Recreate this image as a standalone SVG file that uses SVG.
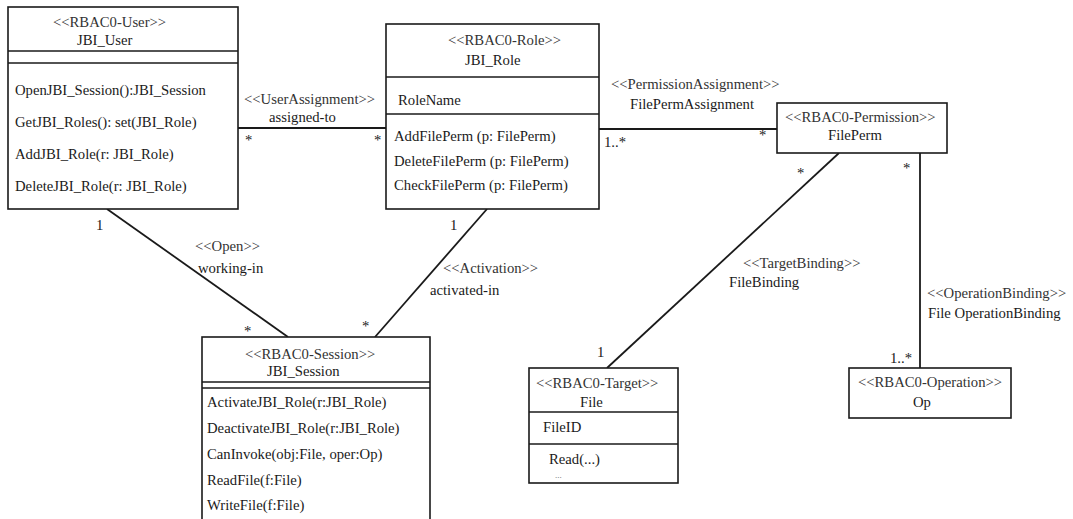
<svg xmlns="http://www.w3.org/2000/svg" width="1073" height="519" viewBox="0 0 1073 519">
<style>
text{font-family:'Liberation Serif','DejaVu Serif',serif;font-size:14.7px;fill:#1a1a1a}
.st{fill:#333}
.box{fill:#fff;stroke:#1a1a1a;stroke-width:1.6}
.div{stroke:#1a1a1a;stroke-width:1.6}
.con{stroke:#1a1a1a;stroke-width:1.8;fill:none}
.sm{font-size:9px;fill:#666}
</style>
<rect width="1073" height="519" fill="#fff"/>
<g id="connectors">
<line class="con" x1="238" y1="128" x2="386" y2="128"/>
<line class="con" x1="599" y1="129" x2="777" y2="129"/>
<line class="con" x1="839" y1="153" x2="607" y2="368"/>
<line class="con" x1="920" y1="153" x2="920" y2="368"/>
<line class="con" x1="107" y1="209" x2="288" y2="337"/>
<line class="con" x1="487" y1="209" x2="375" y2="337"/>
<text class="st" x="244" y="104">&lt;&lt;UserAssignment&gt;&gt;</text>
<text x="269" y="122">assigned-to</text>
<text x="245" y="145">*</text>
<text x="374" y="145">*</text>
<text class="st" x="611" y="89">&lt;&lt;PermissionAssignment&gt;&gt;</text>
<text x="630" y="109">FilePermAssignment</text>
<text x="604" y="147">1..*</text>
<text x="759" y="140">*</text>
<text x="797" y="178">*</text>
<text class="st" x="743" y="268">&lt;&lt;TargetBinding&gt;&gt;</text>
<text x="729" y="287">FileBinding</text>
<text x="597" y="357">1</text>
<text x="903" y="173">*</text>
<text x="890" y="363">1..*</text>
<text class="st" x="927" y="298">&lt;&lt;OperationBinding&gt;&gt;</text>
<text x="928" y="318">File OperationBinding</text>
<text x="96" y="230">1</text>
<text class="st" x="195" y="251">&lt;&lt;Open&gt;&gt;</text>
<text x="198" y="273">working-in</text>
<text x="244" y="336">*</text>
<text x="450" y="230">1</text>
<text class="st" x="443" y="273">&lt;&lt;Activation&gt;&gt;</text>
<text x="430" y="295">activated-in</text>
<text x="362" y="331">*</text>
</g>
<g id="JBI_User">
<rect class="box" x="8" y="7" width="230" height="202"/>
<line class="div" x1="8" y1="51" x2="238" y2="51"/>
<line class="div" x1="8" y1="63" x2="238" y2="63"/>
<text class="st" x="53" y="27">&lt;&lt;RBAC0-User&gt;&gt;</text>
<text x="77" y="45">JBI_User</text>
<text x="15" y="95">OpenJBI_Session():JBI_Session</text>
<text x="15" y="127">GetJBI_Roles(): set(JBI_Role)</text>
<text x="15" y="159">AddJBI_Role(r: JBI_Role)</text>
<text x="15" y="191">DeleteJBI_Role(r: JBI_Role)</text>
</g>
<g id="JBI_Role">
<rect class="box" x="386" y="24" width="213" height="185"/>
<line class="div" x1="386" y1="77" x2="599" y2="77"/>
<line class="div" x1="386" y1="114" x2="599" y2="114"/>
<text class="st" x="448" y="45">&lt;&lt;RBAC0-Role&gt;&gt;</text>
<text x="465" y="65">JBI_Role</text>
<text x="398" y="105">RoleName</text>
<text x="394" y="141">AddFilePerm (p: FilePerm)</text>
<text x="394" y="166">DeleteFilePerm (p: FilePerm)</text>
<text x="394" y="190">CheckFilePerm (p: FilePerm)</text>
</g>
<g id="FilePerm">
<rect class="box" x="777" y="103" width="170" height="50"/>
<text class="st" x="785" y="122">&lt;&lt;RBAC0-Permission&gt;&gt;</text>
<text x="828" y="140">FilePerm</text>
</g>
<g id="JBI_Session">
<rect class="box" x="202" y="337" width="228" height="200"/>
<line class="div" x1="202" y1="382" x2="430" y2="382"/>
<line class="div" x1="202" y1="388" x2="430" y2="388"/>
<text class="st" x="245" y="359">&lt;&lt;RBAC0-Session&gt;&gt;</text>
<text x="267" y="376">JBI_Session</text>
<text x="207" y="407">ActivateJBI_Role(r:JBI_Role)</text>
<text x="207" y="433">DeactivateJBI_Role(r:JBI_Role)</text>
<text x="207" y="459">CanInvoke(obj:File, oper:Op)</text>
<text x="207" y="485">ReadFile(f:File)</text>
<text x="207" y="510">WriteFile(f:File)</text>
</g>
<g id="File">
<rect class="box" x="529" y="368" width="149" height="115"/>
<line class="div" x1="529" y1="412" x2="678" y2="412"/>
<line class="div" x1="529" y1="444" x2="678" y2="444"/>
<text class="st" x="536" y="388">&lt;&lt;RBAC0-Target&gt;&gt;</text>
<text x="580" y="407">File</text>
<text x="543" y="432">FileID</text>
<text x="549" y="464">Read(...)</text>
<text class="sm" x="555" y="478">...</text>
</g>
<g id="Op">
<rect class="box" x="849" y="368" width="162" height="50"/>
<text class="st" x="858" y="387">&lt;&lt;RBAC0-Operation&gt;&gt;</text>
<text x="913" y="407">Op</text>
</g>
</svg>
